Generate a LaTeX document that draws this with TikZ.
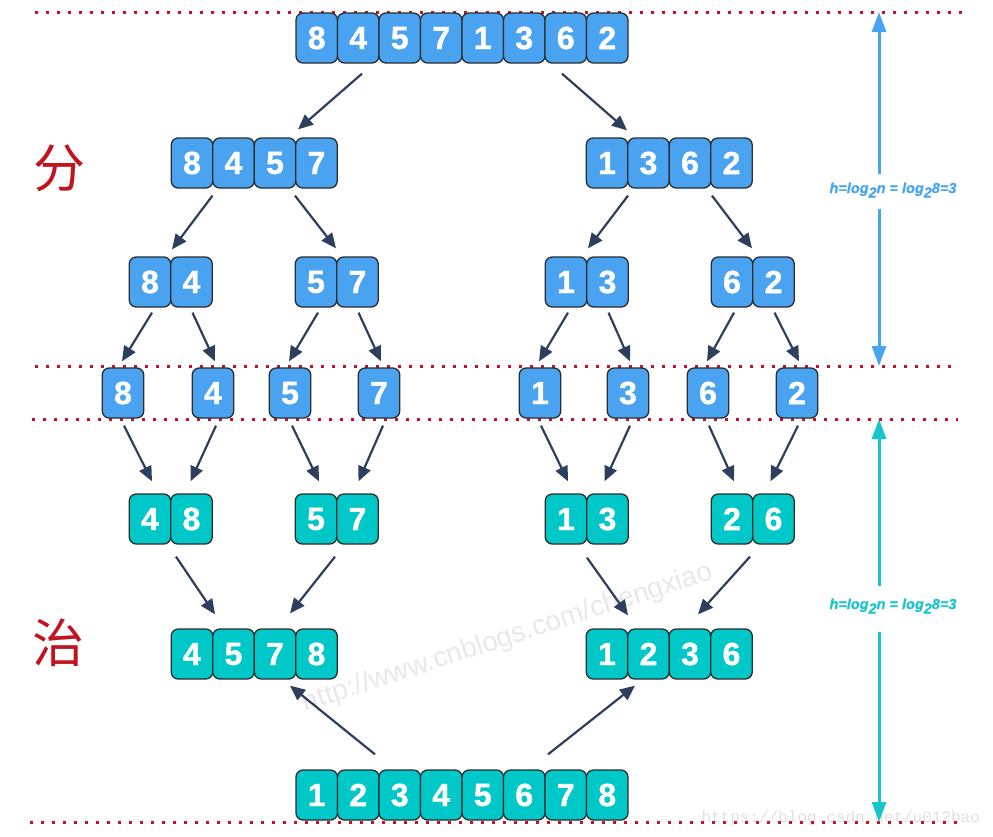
\documentclass[tikz,border=0pt]{standalone}
\usepackage{fontspec}
\setmainfont{Liberation Sans}
\newfontfamily\digfont{Liberation Sans}[BoldFeatures={FakeBold=1.2},BoldItalicFeatures={FakeBold=0.6}]
\newfontfamily\cjk{Noto Sans CJK SC}
\newfontfamily\wmono{Liberation Mono}
\usetikzlibrary{arrows.meta,calc}
\definecolor{cblue}{HTML}{4AA3F0}
\definecolor{cteal}{HTML}{00C8C8}
\definecolor{cedge}{HTML}{2D2D2D}
\definecolor{carr}{HTML}{2E3F5E}
\definecolor{cred}{HTML}{C8102E}
\definecolor{hblue}{HTML}{47A5EF}
\definecolor{hteal}{HTML}{17C5CC}
\definecolor{chan}{HTML}{C0151F}
\newcommand\cellrow[5]{\foreach \dg [count=\ci from 0] in {#5}{\node[#4] (#1\ci) at ({#2+41.5*\ci},#3) {\dg};}}
\newcommand\conn[6]{\draw[arr] ($(#1)+(#2,#3)$) -- ($(#4)+(#5,#6)$);}
\newcommand\sub[1]{\raisebox{-4.5pt}{#1}}
\begin{document}
\begin{tikzpicture}[x=1pt,y=-1pt,
  cellbase/.style={draw=cedge,line width=1.3pt,rounded corners=7pt,minimum width=41.5pt,minimum height=50pt,inner sep=0pt,text=white,font=\digfont\bfseries\fontsize{32}{32}\selectfont},
  bc/.style={cellbase,fill=cblue},
  tc/.style={cellbase,fill=cteal},
  arr/.style={draw=carr,line width=2.2pt,-{Triangle[length=15pt,width=13pt]}},
  redline/.style={draw=cred,line width=3pt,dash pattern=on 3.2pt off 7.8pt},
  harrow/.style={line width=3pt,-{Triangle[length=20pt,width=14pt]}},
  htext/.style={font=\digfont\bfseries\itshape\fontsize{14.5}{14.5}\selectfont,inner sep=0pt},
  hanzi/.style={font=\cjk\fontsize{52}{52}\selectfont,text=chan,inner sep=0pt}
  ]
\useasboundingbox (0,0) rectangle (993,836);
% watermarks
\node[font=\fontsize{28}{28}\selectfont,text=black!9,rotate=18] (wm1) at (508,638) {http://www.cnblogs.com/chengxiao};
\node[font=\wmono\fontsize{16}{16}\selectfont,text=black!12,anchor=west] (wm2) at (698,818) {https://blog.csdn.net/u012bao};
% dotted lines
\coordinate (l1a) at (35,12);  \coordinate (l1b) at (962,12);
\coordinate (l2a) at (35,366); \coordinate (l2b) at (958,366);
\coordinate (l3a) at (32,419); \coordinate (l3b) at (958,419);
\coordinate (l4a) at (30,822); \coordinate (l4b) at (962,822);
\draw[redline] (l1a) -- (l1b);
\draw[redline] (l2a) -- (l2b);
\draw[redline] (l3a) -- (l3b);
\draw[redline] (l4a) -- (l4b);
% rows
\cellrow{t}{316.75}{38}{bc}{8,4,5,7,1,3,6,2}
\cellrow{a}{192}{163}{bc}{8,4,5,7}
\cellrow{b}{607}{163}{bc}{1,3,6,2}
\cellrow{c}{150}{282}{bc}{8,4}
\cellrow{d}{316}{282}{bc}{5,7}
\cellrow{e}{566}{282}{bc}{1,3}
\cellrow{f}{732}{282}{bc}{6,2}
\node[bc] (s0) at (123,393) {8};
\node[bc] (s1) at (213,393) {4};
\node[bc] (s2) at (290,393) {5};
\node[bc] (s3) at (379,393) {7};
\node[bc] (s4) at (540,393) {1};
\node[bc] (s5) at (628,393) {3};
\node[bc] (s6) at (708,393) {6};
\node[bc] (s7) at (797,393) {2};
\cellrow{g}{150}{519}{tc}{4,8}
\cellrow{h}{316}{519}{tc}{5,7}
\cellrow{i}{566}{519}{tc}{1,3}
\cellrow{j}{732}{519}{tc}{2,6}
\cellrow{k}{192}{654}{tc}{4,5,7,8}
\cellrow{m}{607}{654}{tc}{1,2,3,6}
\cellrow{n}{316.75}{795}{tc}{1,2,3,4,5,6,7,8}
% arrows row0 -> row1
\conn{t1.south}{3.75}{10}{a3.north}{-18.5}{-8}
\conn{t6.south}{-3.75}{10}{b0.north}{20}{-7}
% row1 -> row2
\conn{a0.south}{20.5}{7}{c0.north}{22}{-7}
\conn{a2.south}{20}{7}{d0.north}{20}{-8}
\conn{b0.south}{21}{7}{e0.north}{22}{-8}
\conn{b2.south}{22}{7}{f0.north}{20}{-8}
% row2 -> row3
\conn{c0.south}{2}{5}{s0.north}{-1}{-6}
\conn{c1.south}{1}{5}{s1.north}{2}{-6}
\conn{d0.south}{2}{5}{s2.north}{-1}{-6}
\conn{d1.south}{1}{5}{s3.north}{2}{-6}
\conn{e0.south}{2}{5}{s4.north}{-1}{-6}
\conn{e1.south}{1}{5}{s5.north}{2}{-6}
\conn{f0.south}{2}{5}{s6.north}{-1}{-6}
\conn{f1.south}{1}{5}{s7.north}{2}{-6}
% row3 -> row4
\conn{s0.south}{1}{7}{g0.north}{2}{-12}
\conn{s1.south}{3}{7}{g1.north}{-1}{-12}
\conn{s2.south}{2}{7}{h0.north}{3}{-12}
\conn{s3.south}{4}{7}{h1.north}{1}{-12}
\conn{s4.south}{1}{7}{i0.north}{2}{-12}
\conn{s5.south}{2}{7}{i1.north}{-3}{-12}
\conn{s6.south}{1}{7}{j0.north}{2}{-12}
\conn{s7.south}{1}{7}{j1.north}{-3}{-12}
% row4 -> row5
\conn{g1.south}{-15.5}{12}{k1.north}{-18.5}{-14}
\conn{h0.south}{19}{12}{k2.north}{15}{-15}
\conn{i0.south}{21}{13}{m0.north}{21}{-13}
\conn{j0.south}{18}{12}{m2.north}{8}{-14}
% row6 -> row5
\conn{n1.north}{16.75}{-15}{k2.south}{15}{6}
\conn{n6.north}{-17.75}{-15}{m1.south}{-13.5}{6}
% height annotations
\node[htext,text=hblue] (hb) at (893,190) {h=log\sub{2}n = log\sub{2}8=3};
\coordinate (hbtop) at (879,12); \coordinate (hbbot) at (879,366);
\coordinate (hbu) at (879,174); \coordinate (hbd) at (879,209);
\draw[harrow,draw=hblue,fill=hblue] (hbu) -- (hbtop);
\draw[harrow,draw=hblue,fill=hblue] (hbd) -- (hbbot);
\node[htext,text=hteal] (ht) at (893,606) {h=log\sub{2}n = log\sub{2}8=3};
\coordinate (httop) at (879,419); \coordinate (htbot) at (879,822);
\coordinate (htu) at (879,586); \coordinate (htd) at (879,632);
\draw[harrow,draw=hteal,fill=hteal] (htu) -- (httop);
\draw[harrow,draw=hteal,fill=hteal] (htd) -- (htbot);
% hanzi
\node[hanzi] (fen) at (59,168) {分};
\node[hanzi] (zhi) at (58,643) {治};
\end{tikzpicture}
\end{document}
